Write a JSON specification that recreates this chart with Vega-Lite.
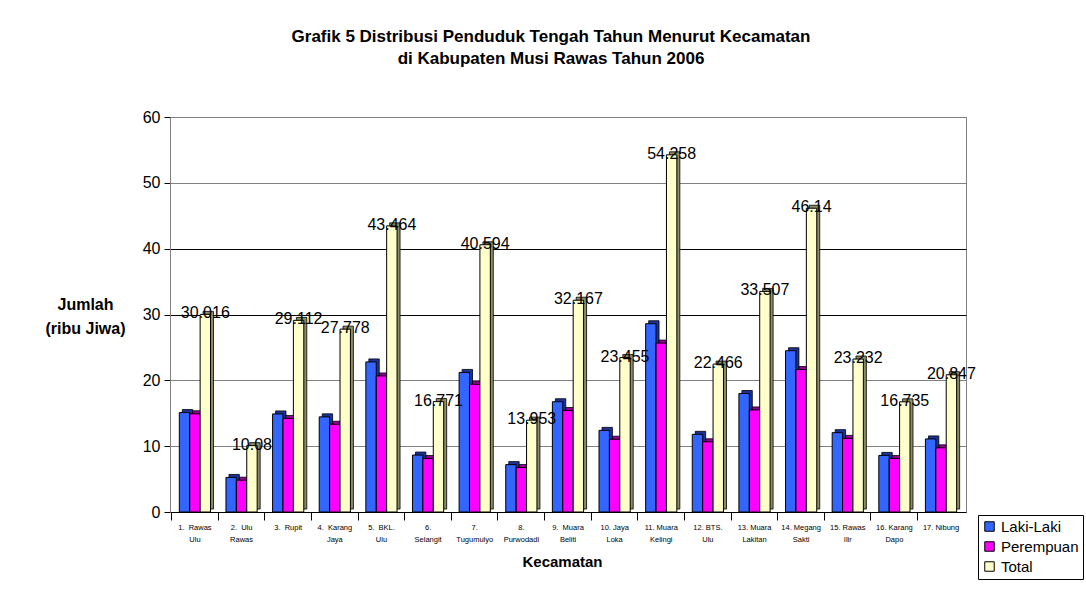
{
  "$schema": "https://vega.github.io/schema/vega-lite/v6.json",
  "width": 796,
  "height": 395,
  "autosize": {"type": "none"},
  "padding": {"left": 170, "top": 117, "right": 120, "bottom": 78},
  "background": "white",
  "title": {
    "text": ["Grafik 5 Distribusi Penduduk Tengah Tahun Menurut Kecamatan", "di Kabupaten Musi Rawas Tahun 2006"],
    "font": "Liberation Sans",
    "fontSize": 17,
    "fontWeight": "bold",
    "lineHeight": 22,
    "color": "black",
    "anchor": "middle",
    "dx": -17,
    "offset": 41
  },
  "data": {
    "values": [
      {"k": "1.\u00a0\u00a0Rawas|Ulu", "s": "Laki-Laki", "v": 15.1},
      {"k": "1.\u00a0\u00a0Rawas|Ulu", "s": "Perempuan", "v": 14.916},
      {"k": "1.\u00a0\u00a0Rawas|Ulu", "s": "Total", "v": 30.016},
      {"k": "2.\u00a0\u00a0Ulu|Rawas", "s": "Laki-Laki", "v": 5.25},
      {"k": "2.\u00a0\u00a0Ulu|Rawas", "s": "Perempuan", "v": 4.83},
      {"k": "2.\u00a0\u00a0Ulu|Rawas", "s": "Total", "v": 10.08},
      {"k": "3.\u00a0\u00a0Rupit", "s": "Laki-Laki", "v": 14.9},
      {"k": "3.\u00a0\u00a0Rupit", "s": "Perempuan", "v": 14.212},
      {"k": "3.\u00a0\u00a0Rupit", "s": "Total", "v": 29.112},
      {"k": "4.\u00a0\u00a0Karang|Jaya", "s": "Laki-Laki", "v": 14.45},
      {"k": "4.\u00a0\u00a0Karang|Jaya", "s": "Perempuan", "v": 13.328},
      {"k": "4.\u00a0\u00a0Karang|Jaya", "s": "Total", "v": 27.778},
      {"k": "5.\u00a0\u00a0BKL.|Ulu", "s": "Laki-Laki", "v": 22.8},
      {"k": "5.\u00a0\u00a0BKL.|Ulu", "s": "Perempuan", "v": 20.664},
      {"k": "5.\u00a0\u00a0BKL.|Ulu", "s": "Total", "v": 43.464},
      {"k": "6.|Selangit", "s": "Laki-Laki", "v": 8.65},
      {"k": "6.|Selangit", "s": "Perempuan", "v": 8.121},
      {"k": "6.|Selangit", "s": "Total", "v": 16.771},
      {"k": "7.|Tugumulyo", "s": "Laki-Laki", "v": 21.2},
      {"k": "7.|Tugumulyo", "s": "Perempuan", "v": 19.394},
      {"k": "7.|Tugumulyo", "s": "Total", "v": 40.594},
      {"k": "8.|Purwodadi", "s": "Laki-Laki", "v": 7.2},
      {"k": "8.|Purwodadi", "s": "Perempuan", "v": 6.753},
      {"k": "8.|Purwodadi", "s": "Total", "v": 13.953},
      {"k": "9.\u00a0\u00a0Muara|Beliti", "s": "Laki-Laki", "v": 16.75},
      {"k": "9.\u00a0\u00a0Muara|Beliti", "s": "Perempuan", "v": 15.417},
      {"k": "9.\u00a0\u00a0Muara|Beliti", "s": "Total", "v": 32.167},
      {"k": "10. Jaya|Loka", "s": "Laki-Laki", "v": 12.4},
      {"k": "10. Jaya|Loka", "s": "Perempuan", "v": 11.055},
      {"k": "10. Jaya|Loka", "s": "Total", "v": 23.455},
      {"k": "11. Muara|Kelingi", "s": "Laki-Laki", "v": 28.6},
      {"k": "11. Muara|Kelingi", "s": "Perempuan", "v": 25.658},
      {"k": "11. Muara|Kelingi", "s": "Total", "v": 54.258},
      {"k": "12. BTS.|Ulu", "s": "Laki-Laki", "v": 11.8},
      {"k": "12. BTS.|Ulu", "s": "Perempuan", "v": 10.666},
      {"k": "12. BTS.|Ulu", "s": "Total", "v": 22.466},
      {"k": "13. Muara|Lakitan", "s": "Laki-Laki", "v": 18.0},
      {"k": "13. Muara|Lakitan", "s": "Perempuan", "v": 15.507},
      {"k": "13. Muara|Lakitan", "s": "Total", "v": 33.507},
      {"k": "14. Megang|Sakti", "s": "Laki-Laki", "v": 24.5},
      {"k": "14. Megang|Sakti", "s": "Perempuan", "v": 21.64},
      {"k": "14. Megang|Sakti", "s": "Total", "v": 46.14},
      {"k": "15. Rawas|Ilir", "s": "Laki-Laki", "v": 12.05},
      {"k": "15. Rawas|Ilir", "s": "Perempuan", "v": 11.182},
      {"k": "15. Rawas|Ilir", "s": "Total", "v": 23.232},
      {"k": "16. Karang|Dapo", "s": "Laki-Laki", "v": 8.6},
      {"k": "16. Karang|Dapo", "s": "Perempuan", "v": 8.135},
      {"k": "16. Karang|Dapo", "s": "Total", "v": 16.735},
      {"k": "17. Nibung", "s": "Laki-Laki", "v": 11.1},
      {"k": "17. Nibung", "s": "Perempuan", "v": 9.747},
      {"k": "17. Nibung", "s": "Total", "v": 20.847}
    ]
  },
  "encoding": {
    "x": {
      "field": "k",
      "type": "nominal",
      "sort": null,
      "scale": {"paddingInner": 0.33, "paddingOuter": 0.2},
      "axis": {
        "labelExpr": "split(datum.label, '|')",
        "labelAngle": 0,
        "labelFontSize": 7.5,
        "labelFont": "Liberation Sans",
        "labelColor": "black",
        "labelLineHeight": 12.5,
        "labelBaseline": "top",
        "labelPadding": 3,
        "labelLimit": 60,
        "tickSize": 8,
        "tickColor": "black",
        "domainColor": "black",
        "bandPosition": -0.25,
        "title": "Kecamatan",
        "titleFont": "Liberation Sans",
        "titleFontSize": 15,
        "titleFontWeight": "bold",
        "titleColor": "black",
        "titleX": 392,
        "titleY": 49,
        "titleBaseline": "middle",
        "titleAlign": "center"
      }
    },
    "y": {
      "field": "v",
      "type": "quantitative",
      "scale": {"domain": [0, 60], "nice": false},
      "axis": {
        "values": [0, 10, 20, 30, 40, 50, 60],
        "labelFontSize": 16,
        "labelFont": "Liberation Sans",
        "labelColor": "black",
        "labelPadding": 4,
        "tickSize": 6,
        "tickColor": "black",
        "domainColor": "#808080",
        "grid": true,
        "gridColor": {"condition": {"test": "datum.value == 30 || datum.value == 40", "value": "black"}, "value": "#808080"},
        "gridOpacity": 1,
        "title": ["Jumlah", "(ribu Jiwa)"],
        "titleFont": "Liberation Sans",
        "titleFontSize": 16,
        "titleFontWeight": "bold",
        "titleColor": "black",
        "titleAngle": 0,
        "titleAlign": "center",
        "titleBaseline": "middle",
        "titleLineHeight": 24,
        "titleX": -85,
        "titleY": 187
      }
    }
  },
  "layer": [
    {
      "mark": {"type": "bar", "stroke": "black", "strokeWidth": 0.8, "yOffset": -3},
      "encoding": {
        "xOffset": {"field": "s", "type": "nominal", "sort": ["Laki-Laki", "Perempuan", "Total"], "scale": {"range": [3, 34.2]}},
        "fill": {
          "field": "s",
          "type": "nominal",
          "scale": {"domain": ["Laki-Laki", "Perempuan", "Total"], "range": ["#1a3399", "#990099", "#8c8c66"]},
          "legend": null
        }
      }
    },
    {
      "mark": {"type": "bar", "stroke": "black", "strokeWidth": 1},
      "encoding": {
        "xOffset": {"field": "s", "type": "nominal", "sort": ["Laki-Laki", "Perempuan", "Total"], "scale": {"range": [0, 31.2]}},
        "color": {
          "field": "s",
          "type": "nominal",
          "scale": {"domain": ["Laki-Laki", "Perempuan", "Total"], "range": ["#3366FF", "#FF00FF", "#FFFFCC"]},
          "legend": {
            "title": null,
            "orient": "none",
            "legendX": 808,
            "legendY": 398,
            "strokeColor": "black",
            "fillColor": "white",
            "padding": 4,
            "labelFont": "Liberation Sans",
            "labelFontSize": 15,
            "labelColor": "black",
            "symbolType": "square",
            "symbolSize": 90,
            "symbolStrokeColor": "black",
            "symbolStrokeWidth": 1,
            "rowPadding": 4
          }
        }
      }
    },
    {
      "transform": [{"filter": "datum.s == 'Total'"}],
      "mark": {"type": "text", "font": "Liberation Sans", "fontSize": 16, "baseline": "middle", "dy": -1, "color": "black"},
      "encoding": {
        "xOffset": {"field": "s", "type": "nominal", "sort": ["Laki-Laki", "Perempuan", "Total"], "scale": {"domain": ["Laki-Laki", "Perempuan", "Total"], "range": [0, 31.2]}},
        "text": {"field": "v", "type": "quantitative"}
      }
    }
  ],
  "resolve": {"scale": {"fill": "independent", "color": "independent", "xOffset": "independent"}},
  "config": {
    "view": {"stroke": "#808080"}
  }
}
